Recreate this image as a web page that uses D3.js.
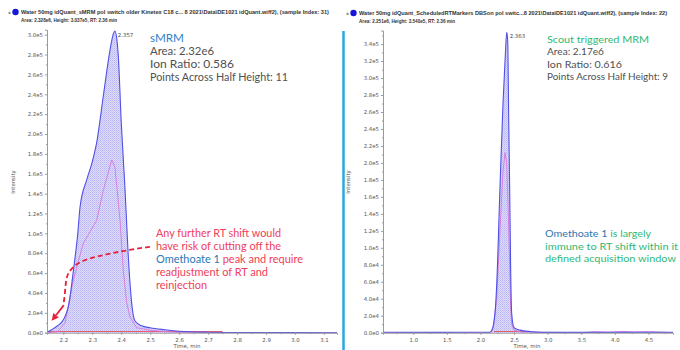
<!DOCTYPE html>
<html><head><meta charset="utf-8">
<script src="https://cdn.jsdelivr.net/npm/d3@7"></script>
<style>
html,body{margin:0;padding:0;background:#fff;}
svg{display:block;}
</style></head>
<body>
<svg id="chart" width="680" height="350"></svg>
<script>
// ---------- DATA ----------
// Left panel: sMRM (time in min, intensity in cps)
const leftTime  = [2.144,2.16,2.18,2.20,2.22,2.235,2.25,2.258,2.281,2.30,2.315,2.338,2.361,2.372,2.378,2.385,2.39,2.40,2.413,2.424,2.436,2.447,2.47,2.50,2.55,2.60,2.70,2.80,3.145];
const leftQuant = [500,3000,7000,13000,30000,63000,100000,127000,154000,172000,191000,238000,284000,300000,303700,295000,278000,212000,145000,79000,30000,12000,7000,5000,3000,1500,500,200,0];
const leftQualTime = [2.144,2.18,2.206,2.2345,2.269,2.315,2.338,2.367,2.378,2.396,2.407,2.419,2.430,2.453,2.50,2.55,2.60,3.145];
const leftQual     = [0,1000,9700,53000,90000,113000,143000,174000,167000,113000,63000,30000,16000,5000,2500,1200,300,0];
const leftBaseline = [2.144, 2.75];
const leftXTicks = [2.2,2.3,2.4,2.5,2.6,2.7,2.8,2.9,3.0,3.1];
const leftYTicks = [0,2e4,4e4,6e4,8e4,1e5,1.2e5,1.4e5,1.6e5,1.8e5,2e5,2.2e5,2.4e5,2.6e5,2.8e5,3e5];
const leftArrowTime = [2.499,2.420,2.350,2.292,2.246,2.217,2.209,2.206,2.200];
const leftArrowVal  = [86500,83000,79000,75000,70000,61000,53000,40000,27000];

// Right panel: Scout triggered MRM
const rightTime  = [0.549,1.5,2.0,2.141,2.17,2.216,2.24,2.29,2.335,2.37,2.39,2.405,2.42,2.434,2.449,2.464,2.499,2.587,2.78,3.0,4.865];
const rightQuant = [500,400,600,500,3000,22800,54000,171000,270000,328000,354000,344000,250000,171000,74000,23000,6000,3000,1000,400,500];
const rightQualTime = [0.549,2.141,2.19,2.24,2.29,2.335,2.365,2.39,2.414,2.434,2.449,2.464,2.50,2.60,3.5,3.7,3.9,4.1,4.3,4.5,4.865];
const rightQual     = [0,0,6000,40000,120000,190000,212000,200000,140000,80000,30000,10000,3000,800,0,1200,600,1500,900,1300,0];
const rightBaseline = [2.2, 2.7];
const rightXTicks = [1.0,1.5,2.0,2.5,3.0,3.5,4.0,4.5];
const rightYTicks = [0,2e4,4e4,6e4,8e4,1e5,1.2e5,1.4e5,1.6e5,1.8e5,2e5,2.2e5,2.4e5,2.6e5,2.8e5,3e5,3.2e5,3.4e5];

const leftTitle1  = "Water 50mg idQuant_sMRM pol switch older Kinetex C18 c... 8 2021\\Data\\DE1021 idQuant.wiff2), (sample Index: 31)";
const leftTitle2  = "Area: 2.328e6, Height: 3.037e5, RT: 2.36 min";
const rightTitle1 = "Water 50mg idQuant_ScheduledRTMarkers DBSon pol switc...8 2021\\Data\\DE1021 idQuant.wiff2), (sample Index: 22)";
const rightTitle2 = "Area: 2.251e6, Height: 3.540e5, RT: 2.36 min";
const leftApex = {t: 2.378, v: 303700, label: "2.357"};
const rightApex = {t: 2.39, v: 354000, label: "2.363"};

// ---------- DRAW ----------
const svg = d3.select("#chart");
const defs = svg.append("defs");
const pat = defs.append("pattern").attr("id","hatch").attr("patternUnits","userSpaceOnUse").attr("width",2).attr("height",2);
pat.append("rect").attr("width",2).attr("height",2).attr("fill","#dedcfa");
pat.append("rect").attr("width",1).attr("height",1).attr("fill","#b9b5f2");
pat.append("rect").attr("x",1).attr("y",1).attr("width",1).attr("height",1).attr("fill","#c8c5f5");

const yFmt = v => d3.format(".1e")(v).replace("+","");
const FONT = "Lato, 'Open Sans', sans-serif";

function panel(cfg){
  const g = svg.append("g");
  const x = d3.scaleLinear().domain(cfg.xDomain).range(cfg.xRange);
  const y = d3.scaleLinear().domain(cfg.yDomain).range(cfg.yRange);

  // titles
  g.append("text").attr("x",cfg.titleX-13).attr("y",cfg.titleY+1.5).attr("font-size",6).attr("font-family","DejaVu Sans").attr("fill","#333").text("*");
  g.append("circle").attr("cx",cfg.titleX-5.5).attr("cy",cfg.titleY-2).attr("r",3.2).attr("fill","#1616d8");
  g.append("text").attr("x",cfg.titleX).attr("y",cfg.titleY).attr("font-size",5.2).attr("font-weight","bold")
    .attr("font-family","'Liberation Sans Narrow','Liberation Sans', Arial, sans-serif").attr("fill","#333")
    .attr("textLength",cfg.title1Len).attr("lengthAdjust","spacingAndGlyphs").text(cfg.title1);
  g.append("text").attr("x",cfg.titleX).attr("y",cfg.titleY+7.5).attr("font-size",5.2).attr("font-weight","bold")
    .attr("font-family","'Liberation Sans Narrow','Liberation Sans', Arial, sans-serif").attr("fill","#333")
    .attr("textLength",cfg.title2Len).attr("lengthAdjust","spacingAndGlyphs").text(cfg.title2);

  // area fill
  const area = d3.area().x((d,i)=>x(cfg.time[i])).y0(y(0)).y1((d,i)=>y(cfg.quant[i])).curve(d3.curveMonotoneX);
  g.append("path").datum(cfg.quant).attr("d",area).attr("fill","url(#hatch)");

  // baseline (red)
  g.append("line").attr("x1",x(cfg.baseline[0])).attr("x2",x(cfg.baseline[1]))
    .attr("y1",y(0)-1.2).attr("y2",y(0)-1.2).attr("stroke","#e8606e").attr("stroke-width",1.2);

  // qualifier (pink)
  const lineQ = d3.line().x((d,i)=>x(cfg.qualTime[i])).y((d,i)=>y(cfg.qual[i])).curve(d3.curveLinear);
  g.append("path").datum(cfg.qual).attr("d",lineQ).attr("fill","none").attr("stroke","#d877dc").attr("stroke-width",0.9);

  // quantifier (blue)
  const line = d3.line().x((d,i)=>x(cfg.time[i])).y((d,i)=>y(cfg.quant[i])).curve(d3.curveMonotoneX);
  g.append("path").datum(cfg.quant).attr("d",line).attr("fill","none").attr("stroke","#5050e6").attr("stroke-width",1.1);

  // axes
  const yAxis = d3.axisLeft(y).tickValues(cfg.yTicks).tickFormat(yFmt).tickSize(2).tickPadding(2);
  const ya = g.append("g").attr("transform",`translate(${cfg.xRange[0]},0)`).call(yAxis);
  const xAxis = d3.axisBottom(x).tickValues(cfg.xTicks).tickFormat(d3.format(".1f")).tickSize(2).tickPadding(3);
  const xa = g.append("g").attr("transform",`translate(0,${cfg.yRange[0]})`).call(xAxis);
  // minor ticks
  const yMinor = d3.axisLeft(y).tickValues(cfg.yTicks.map(v=>v+ (cfg.yTicks[1]-cfg.yTicks[0])/2).filter(v=>v<cfg.yDomain[1])).tickFormat("").tickSize(1);
  g.append("g").attr("transform",`translate(${cfg.xRange[0]},0)`).call(yMinor).select(".domain").remove();
  const step = cfg.xTicks[1]-cfg.xTicks[0];
  const xm = d3.range(cfg.xTicks[0]-step, cfg.xDomain[1], step/2).filter(v=>v>cfg.xDomain[0]);
  g.append("g").attr("transform",`translate(0,${cfg.yRange[0]})`).call(d3.axisBottom(x).tickValues(xm).tickFormat("").tickSize(1.5)).select(".domain").remove();

  g.selectAll(".domain").attr("stroke","#9a9a9a");
  g.selectAll(".tick line").attr("stroke","#9a9a9a");
  [ya,xa].forEach(a=>a.selectAll("text").attr("font-size",5.4).attr("fill","#555").attr("font-family","'DejaVu Sans', sans-serif"));

  g.append("text").attr("transform",`translate(${cfg.yLabelX},182) rotate(-90)`).attr("text-anchor","middle")
    .attr("font-size",5.4).attr("fill","#555").attr("font-family","'DejaVu Sans', sans-serif").text("Intensity");
  g.append("text").attr("x",cfg.xLabelX).attr("y",348).attr("text-anchor","middle")
    .attr("font-size",5.4).attr("fill","#555").attr("font-family","'DejaVu Sans', sans-serif").text("Time, min");

  // apex label
  g.append("text").attr("x",x(cfg.apex.t)+3).attr("y",y(cfg.apex.v)+6).attr("font-size",5.4).attr("fill","#444")
    .attr("font-family","'DejaVu Sans', sans-serif").text(cfg.apex.label);
  return {g,x,y};
}

const L = panel({
  xDomain:[2.1437,3.145], xRange:[47,337], yDomain:[0,3.05e5], yRange:[332.7,29.7],
  time:leftTime, quant:leftQuant, qualTime:leftQualTime, qual:leftQual, baseline:leftBaseline,
  xTicks:leftXTicks, yTicks:leftYTicks, title1:leftTitle1, title2:leftTitle2, titleX:21, titleY:14,
  title1Len:308, title2Len:96, yLabelX:15, xLabelX:187, apex:leftApex
});
const R = panel({
  xDomain:[0.549,4.865], xRange:[383,673], yDomain:[0,3.56e5], yRange:[332.7,30.5],
  time:rightTime, quant:rightQuant, qualTime:rightQualTime, qual:rightQual, baseline:rightBaseline,
  xTicks:rightXTicks, yTicks:rightYTicks, title1:rightTitle1, title2:rightTitle2, titleX:359, titleY:15,
  title1Len:308, title2Len:96, yLabelX:350, xLabelX:527, apex:rightApex
});

// panel frame of right pane
svg.append("line").attr("x1",343.5).attr("x2",343.5).attr("y1",31).attr("y2",350).attr("stroke","#2aa8dc").attr("stroke-width",2.5);

// ---------- ANNOTATIONS ----------
function textBlock(lines, x0, y0, dy, size){
  lines.forEach((ln,i)=>{
    const t = svg.append("text").attr("x",x0).attr("y",y0+i*dy).attr("font-size",size).attr("font-family",FONT);
    if (ln.len) t.attr("textLength",ln.len).attr("lengthAdjust","spacingAndGlyphs");
    ln.parts.forEach(p=>t.append("tspan").attr("fill",p.c).text(p.s));
  });
}
const gray="#505050", blue="#2f80cc", red="#f0405a", green="#2fb877", dblue="#2a78b4";
textBlock([
  {parts:[{s:"sMRM",c:blue}], len:34},
  {parts:[{s:"Area: 2.32e6",c:gray}], len:64},
  {parts:[{s:"Ion Ratio: 0.586",c:gray}], len:84},
  {parts:[{s:"Points Across Half Height: 11",c:gray}], len:138}
], 150, 42, 13, 11);
textBlock([
  {parts:[{s:"Any further RT shift would",c:red}], len:125},
  {parts:[{s:"have risk of cutting off the",c:red}], len:125},
  {parts:[{s:"Omethoate 1",c:dblue},{s:" peak and require",c:red}], len:147},
  {parts:[{s:"readjustment of RT and",c:red}], len:112},
  {parts:[{s:"reinjection",c:red}], len:51}
], 156, 237, 13, 10.5);
textBlock([
  {parts:[{s:"Scout triggered MRM",c:green}], len:102},
  {parts:[{s:"Area: 2.17e6",c:gray}], len:57},
  {parts:[{s:"Ion Ratio: 0.616",c:gray}], len:75},
  {parts:[{s:"Points Across Half Height: 9",c:gray}], len:121}
], 547, 43, 12.3, 10);
textBlock([
  {parts:[{s:"Omethoate 1",c:dblue},{s:" is largely",c:green}], len:106},
  {parts:[{s:"immune to RT shift within it",c:green}], len:133},
  {parts:[{s:"defined acquisition window",c:green}], len:131}
], 545, 237, 12.5, 10);

// dashed red arrow in left panel (data coords)
const arrowLine = d3.line().x((d,i)=>L.x(leftArrowTime[i])).y((d,i)=>L.y(leftArrowVal[i])).curve(d3.curveBasis);
svg.append("path").datum(leftArrowVal).attr("d",arrowLine).attr("fill","none").attr("stroke","#e8203a")
  .attr("stroke-width",1.8).attr("stroke-dasharray","5,3");
const tipX = L.x(2.160), tipY = L.y(12000);
const bx = L.x(2.200), by = L.y(27000);
const ang = Math.atan2(tipY-by, tipX-bx);
const hl=7, hw=3.5;
const p1=[tipX-hl*Math.cos(ang)+hw*Math.sin(ang), tipY-hl*Math.sin(ang)-hw*Math.cos(ang)];
const p2=[tipX-hl*Math.cos(ang)-hw*Math.sin(ang), tipY-hl*Math.sin(ang)+hw*Math.cos(ang)];
svg.append("path").attr("d",`M${tipX},${tipY}L${p1[0]},${p1[1]}L${p2[0]},${p2[1]}Z`).attr("fill","#e8203a");
svg.append("line").attr("x1",bx).attr("y1",by).attr("x2",tipX-hl*Math.cos(ang)).attr("y2",tipY-hl*Math.sin(ang))
  .attr("stroke","#e8203a").attr("stroke-width",1.8);
</script>
</body></html>
